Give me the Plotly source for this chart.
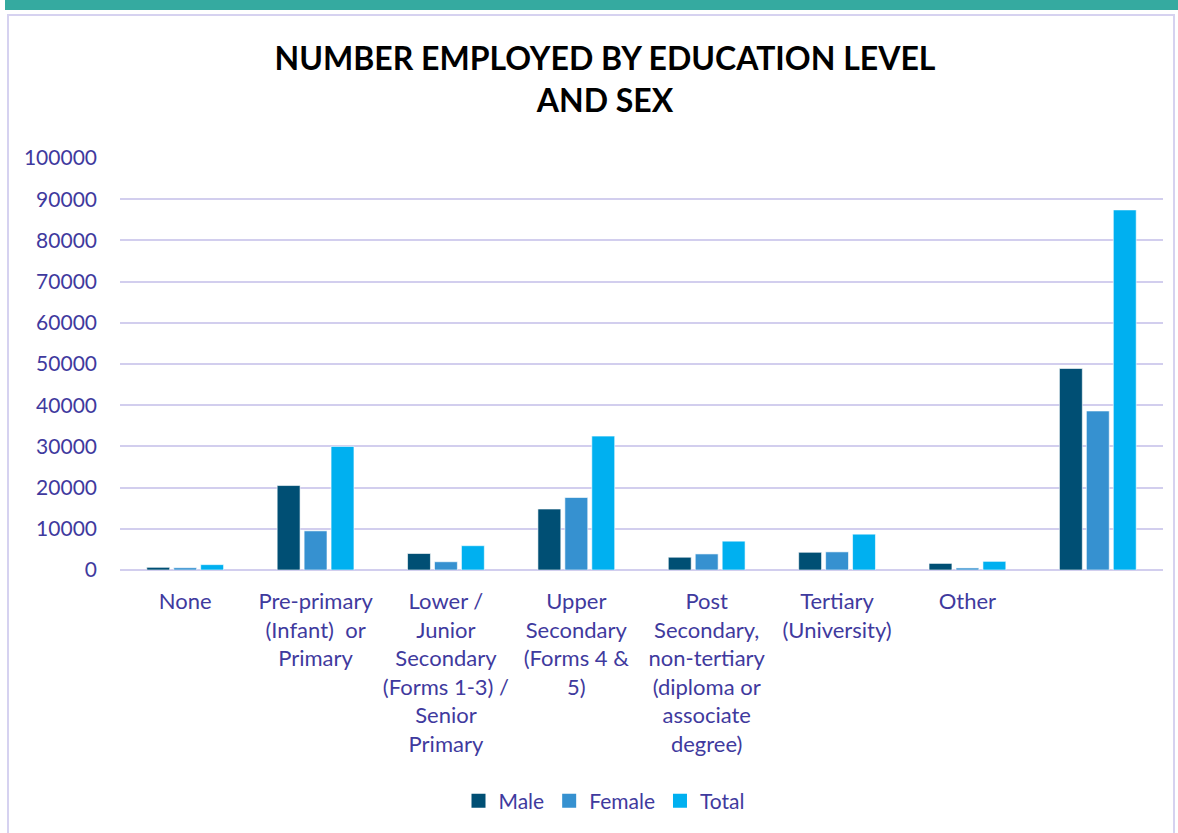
import plotly.graph_objects as go

categories = [
    "None",
    "Pre-primary<br>(Infant)  or<br>Primary",
    "Lower /<br>Junior<br>Secondary<br>(Forms 1-3) /<br>Senior<br>Primary",
    "Upper<br>Secondary<br>(Forms 4 &<br>5)",
    "Post<br>Secondary,<br>non-tertiary<br>(diploma or<br>associate<br>degree)",
    "Tertiary<br>(University)",
    "Other",
    " ",
]
male = [650, 20500, 4000, 14800, 3100, 4300, 1600, 48900]
female = [550, 9500, 2000, 17600, 3900, 4400, 500, 38600]
total = [1300, 30000, 5900, 32500, 7000, 8700, 2100, 87400]
y_ticks = [0, 10000, 20000, 30000, 40000, 50000, 60000, 70000, 80000, 90000, 100000]

W, H = 1178, 833
L, R, T, B = 120, 1163, 158, 570
FONT = "Lato"
TXT = "#3F3A9E"

def px_x(p):
    return (p - L) / (R - L)

def px_y(p):
    return (B - p) / (B - T)

fig = go.Figure()
series = [("Male", male, "#004F74"), ("Female", female, "#3691D0"), ("Total", total, "#00B0F0")]
for name, vals, col in series:
    fig.add_trace(go.Bar(x=categories, y=vals, name=name, showlegend=False,
                         marker=dict(color=col, line=dict(color="rgba(255,255,255,0.6)", width=1))))
for name, vals, col in series:
    fig.add_trace(go.Scatter(x=[None], y=[None], mode="markers", name=name,
                             marker=dict(symbol="square", size=14, color=col)))

fig.update_layout(
    width=W, height=H,
    margin=dict(l=L, r=W - R, t=T, b=H - B),
    paper_bgcolor="white", plot_bgcolor="white",
    barmode="group", bargap=0.38, bargroupgap=0.15,
    title=dict(text="<b>NUMBER EMPLOYED BY EDUCATION LEVEL<br>AND SEX</b>", x=px_x(605), xref="paper", xanchor="center",
               y=1 - 70 / H, yanchor="middle", font=dict(family=FONT, size=32, color="black")),
    font=dict(family=FONT, size=22, color=TXT),
    xaxis=dict(showgrid=False, ticks="", ticklabelstandoff=16, tickfont=dict(family=FONT, size=22, color=TXT),
               showline=False, zeroline=False),
    yaxis=dict(range=[0, 100000], tickvals=y_ticks, ticktext=[str(v) for v in y_ticks], showgrid=True,
               gridcolor="#D2CEEE", gridwidth=2, zeroline=True, zerolinecolor="#D2CEEE", zerolinewidth=2,
               tickfont=dict(family=FONT, size=21, color=TXT), ticklabelstandoff=22, showline=False),
    legend=dict(orientation="h", x=px_x(604), xanchor="center", y=px_y(801), yanchor="middle",
                font=dict(family=FONT, size=21, color=TXT), traceorder="normal", itemwidth=30,
                entrywidth=0),
    shapes=[
        dict(type="rect", xref="paper", yref="paper", x0=px_x(5), x1=px_x(1185), y0=px_y(0), y1=px_y(10),
             fillcolor="#35AAA0", line=dict(width=0), layer="below"),
        dict(type="rect", xref="paper", yref="paper", x0=px_x(8), x1=px_x(1174), y0=px_y(15), y1=px_y(840),
             fillcolor="rgba(0,0,0,0)", line=dict(color="#D6D2F0", width=2), layer="below"),
    ],
)

fig.write_html("out.html")
